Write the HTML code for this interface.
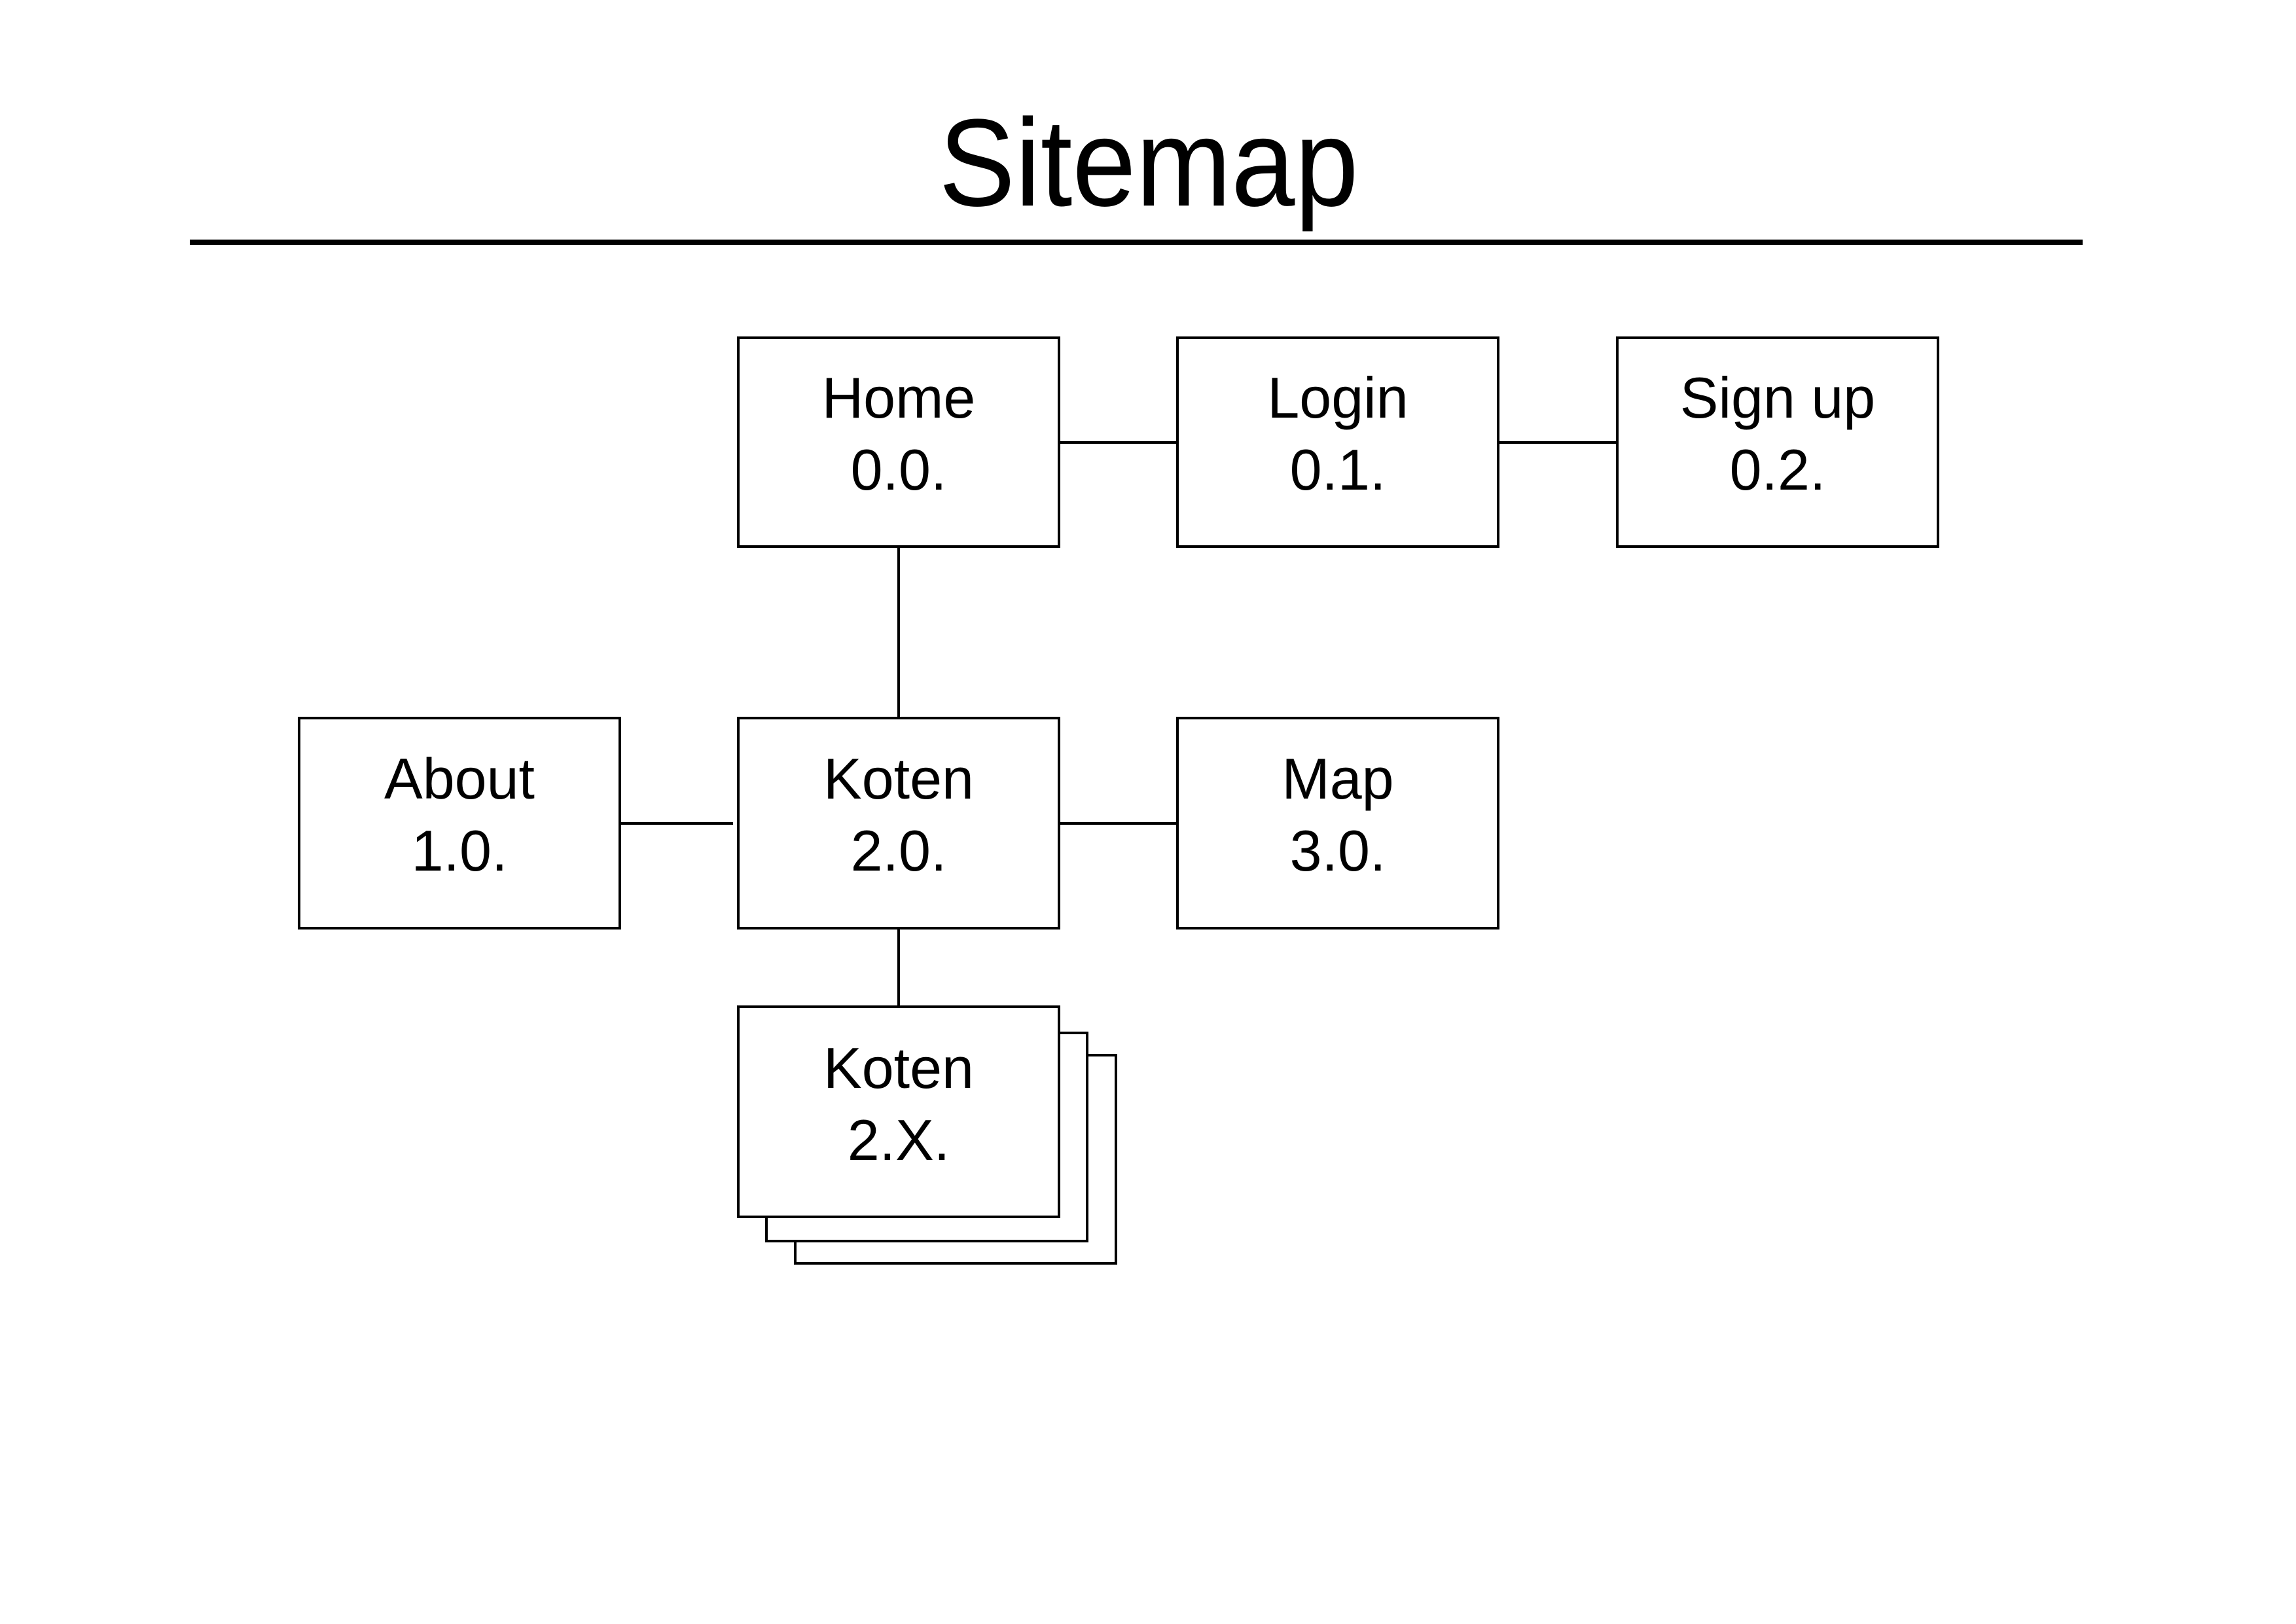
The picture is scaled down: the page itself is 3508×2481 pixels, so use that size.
<!DOCTYPE html>
<html><head><meta charset="utf-8"><style>
html,body{margin:0;padding:0;background:#fff;}
svg{display:block;}
text{font-family:"Liberation Sans",sans-serif;fill:#000;}
</style></head><body>
<svg width="3508" height="2481" viewBox="0 0 3508 2481" xmlns="http://www.w3.org/2000/svg">
<rect width="3508" height="2481" fill="#fff"/>
<g transform="translate(1755,314) scale(0.92,1)"><text x="0" y="0" font-size="190" text-anchor="middle">Sitemap</text></g>
<line x1="290" y1="370" x2="3182" y2="370" stroke="#000" stroke-width="8"/>
<g stroke="#000" stroke-width="4" fill="#fff">
<line x1="1618" y1="676" x2="1799" y2="676"/>
<line x1="2289" y1="676" x2="2471" y2="676"/>
<line x1="1373" y1="835" x2="1373" y2="1097"/>
<line x1="947" y1="1258" x2="1120" y2="1258"/>
<line x1="1618" y1="1258" x2="1799" y2="1258"/>
<line x1="1373" y1="1418" x2="1373" y2="1538"/>
<rect x="1128" y="516" width="490" height="319"/>
<rect x="1799" y="516" width="490" height="319"/>
<rect x="2471" y="516" width="490" height="319"/>
<rect x="457" y="1097" width="490" height="321"/>
<rect x="1128" y="1097" width="490" height="321"/>
<rect x="1799" y="1097" width="490" height="321"/>
<rect x="1215" y="1612" width="490" height="318"/>
<rect x="1171" y="1578" width="490" height="318"/>
<rect x="1128" y="1538" width="490" height="321"/>
</g>
<g font-size="88" text-anchor="middle">
<text x="1373" y="638">Home</text><text x="1373" y="748">0.0.</text>
<text x="2044" y="638">Login</text><text x="2044" y="748">0.1.</text>
<text x="2716" y="638">Sign up</text><text x="2716" y="748">0.2.</text>
<text x="702" y="1220">About</text><text x="702" y="1330">1.0.</text>
<text x="1373" y="1220">Koten</text><text x="1373" y="1330">2.0.</text>
<text x="2044" y="1220">Map</text><text x="2044" y="1330">3.0.</text>
<text x="1373" y="1662">Koten</text><text x="1373" y="1772">2.X.</text>
</g>
</svg>
</body></html>
